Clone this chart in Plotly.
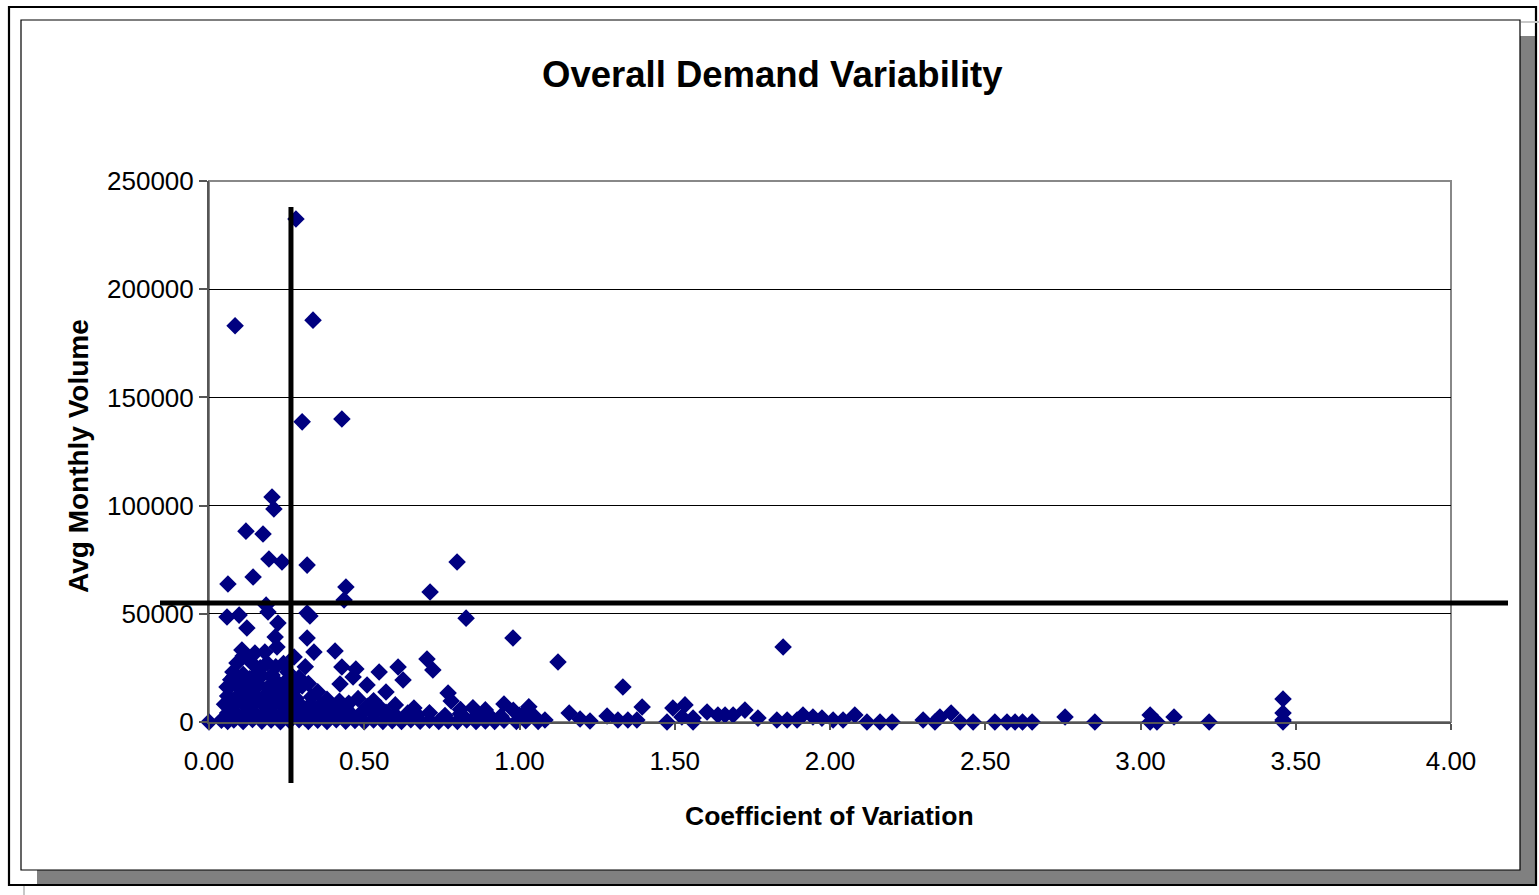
import plotly.graph_objects as go

# ---- data: (coefficient of variation, average monthly volume) ----
high_points = [
    (0.280, 232400), (0.084, 183100), (0.335, 185700), (0.300, 138700), (0.428, 140000),
    (0.203, 104000), (0.209, 98400), (0.119, 88200), (0.174, 86900), (0.193, 75300),
    (0.235, 73900), (0.316, 72500), (0.799, 73900), (0.142, 67000), (0.061, 63800),
    (0.441, 62400), (0.712, 60100), (0.435, 56400), (0.184, 54000),
]
mid_points = [
    (0.058, 48500), (0.097, 49400), (0.190, 50800), (0.316, 50400), (0.325, 49000),
    (0.828, 48000), (0.122, 43400), (0.222, 45700), (0.213, 39300), (0.316, 38800),
    (0.979, 38800), (0.219, 34700), (0.338, 32300), (0.406, 32800), (0.106, 33300),
    (0.274, 30000), (0.148, 31900), (0.180, 32300), (0.702, 29100), (0.721, 24000),
    (1.124, 27700), (1.849, 34700), (0.428, 25400), (0.473, 24500), (0.548, 23100),
    (0.609, 25400), (0.464, 20800), (0.625, 19400), (0.422, 17600), (0.509, 17100),
    (0.570, 13900), (1.333, 16200), (0.138, 27300), (0.187, 27300), (0.090, 27300),
    (0.077, 23100), (0.155, 22600), (0.203, 21700), (0.254, 23100), (0.058, 16200),
    (0.196, 15700), (0.277, 14800), (0.222, 16200), (0.770, 13400), (0.110, 30500),
    (0.165, 25000), (0.240, 27000), (0.265, 19500), (0.130, 20000), (0.100, 19000),
    (0.070, 19500), (0.215, 25500), (0.245, 18500), (0.290, 20500),
]
dense_points = [
    # lowest row
    (0.040, 800), (0.060, 300), (0.080, 900), (0.110, 200), (0.140, 1200), (0.170, 400),
    (0.200, 900), (0.230, 100), (0.260, 600), (0.290, 1100), (0.320, 300), (0.350, 800),
    (0.380, 200), (0.410, 1000), (0.440, 400), (0.470, 700), (0.500, 100), (0.530, 900),
    (0.560, 300), (0.590, 600), (0.620, 200), (0.650, 1000), (0.680, 400), (0.710, 800),
    (0.740, 200), (0.770, 600), (0.800, 300), (0.830, 900), (0.860, 200), (0.890, 500),
    (0.920, 300), (0.950, 800), (0.990, 200), (1.020, 600), (1.060, 300),
    # second row
    (0.060, 4200), (0.090, 3600), (0.120, 4500), (0.150, 3800), (0.180, 4300), (0.210, 3500),
    (0.240, 4600), (0.270, 3900), (0.300, 4100), (0.330, 3400), (0.360, 4400), (0.400, 3700),
    (0.430, 4800), (0.460, 3300), (0.490, 4200), (0.530, 3600), (0.570, 4500), (0.600, 3200),
    (0.640, 4100), (0.670, 3500), (0.710, 4300), (0.760, 3000), (0.810, 3800), (0.860, 2900),
    (0.900, 3400), (0.940, 2600), (1.000, 3100),
    # third row
    (0.050, 8200), (0.080, 7600), (0.110, 8500), (0.140, 7900), (0.170, 8800), (0.200, 7400),
    (0.230, 8300), (0.260, 7700), (0.290, 8600), (0.320, 7200), (0.360, 8100), (0.410, 7500),
    (0.450, 8700), (0.510, 7300), (0.550, 6800), (0.600, 7900), (0.660, 6500), (0.780, 9700),
    (0.850, 6600), (0.950, 8300), (1.030, 7000), (0.810, 5800), (0.890, 5600), (0.980, 5400),
    (1.020, 4600),
    # fourth row
    (0.060, 12000), (0.090, 11500), (0.120, 12500), (0.150, 11800), (0.180, 12300),
    (0.210, 11200), (0.240, 12600), (0.280, 11000), (0.330, 11600), (0.380, 10500),
    (0.480, 10800), (0.420, 9600), (0.530, 9800), (0.270, 10000),
    # upper fill
    (0.070, 16800), (0.100, 15600), (0.130, 16400), (0.160, 17200), (0.190, 16000),
    (0.250, 15800), (0.300, 16700), (0.080, 21000), (0.110, 22000), (0.140, 20500),
    (0.170, 21500), (0.210, 19800), (0.310, 25500), (0.320, 17800), (0.350, 14000),
    (0.340, 6000), (0.390, 2500), (0.440, 6300), (0.370, 5800), (0.255, 2200), (0.310, 1800),
]
tail_points = [
    (1.050, 2300), (1.082, 900), (1.160, 4200), (1.195, 1400), (1.227, 500), (1.282, 2800),
    (1.317, 900), (1.349, 900), (1.378, 900), (1.395, 6900), (1.475, 0), (1.494, 6500),
    (1.523, 2300), (1.533, 7900), (1.559, 1800), (1.559, 0), (1.604, 4600), (1.639, 3200),
    (1.662, 3200), (1.688, 3200), (1.726, 5500), (1.768, 1800), (1.829, 900), (1.862, 900),
    (1.894, 900), (1.913, 3200), (1.945, 2300), (1.974, 1800), (2.010, 900), (2.042, 900),
    (2.080, 3200), (2.119, 0), (2.161, 0), (2.200, 0), (2.300, 900), (2.338, 0),
    (2.354, 2300), (2.390, 4200), (2.419, 0), (2.461, 0), (2.531, 0), (2.570, 0),
    (2.596, 0), (2.620, 0), (2.651, 0), (2.757, 2300), (2.853, 0), (3.031, 3200),
    (3.031, 0), (3.053, 0), (3.108, 2300), (3.221, 0), (3.459, 10600), (3.459, 4200),
    (3.459, 900), (3.459, 0), (0.000, 0),
]

# thresholds drawn as the reference cross lines
cv_threshold = 0.264
volume_threshold = 55000

x_ticks = [0.0, 0.5, 1.0, 1.5, 2.0, 2.5, 3.0, 3.5, 4.0]
y_ticks = [0, 50000, 100000, 150000, 200000, 250000]

all_points = high_points + mid_points + dense_points + tail_points
cv = [p[0] for p in all_points]
vol = [p[1] for p in all_points]

W, H = 1539, 895
L, R, T, B = 209, 1451, 181, 722


def px(xp):
    return (xp - L) / (R - L)


def py(yp):
    return (B - yp) / (B - T)


FONT = "Liberation Sans, Arial, sans-serif"

fig = go.Figure()
fig.add_trace(go.Scatter(
    x=cv, y=vol, mode="markers",
    marker=dict(symbol="diamond", size=13.5, color="#000080", line=dict(width=0)),
    showlegend=False, cliponaxis=False,
))

shapes = [
    # shadow
    dict(type="rect", xref="paper", yref="paper", x0=px(37), x1=px(1535), y0=py(884), y1=py(36),
         fillcolor="#808080", line=dict(width=0), layer="below"),
    # chart area
    dict(type="rect", xref="paper", yref="paper", x0=px(21), x1=px(1520), y0=py(870), y1=py(20),
         fillcolor="white", line=dict(color="black", width=1.2), layer="below"),
    # outer frame
    dict(type="rect", xref="paper", yref="paper", x0=px(9), x1=px(1536), y0=py(885), y1=py(7),
         fillcolor="rgba(0,0,0,0)", line=dict(color="black", width=2.2), layer="below"),
    dict(type="line", xref="paper", yref="paper", x0=px(24), x1=px(24), y0=py(886), y1=py(895),
         line=dict(color="#c8c8c8", width=2), layer="below"),
    dict(type="line", xref="paper", yref="paper", x0=px(1521), x1=px(1539), y0=py(22), y1=py(22),
         line=dict(color="#c8c8c8", width=2), layer="below"),
    # threshold lines
    dict(type="line", xref="x", yref="paper", x0=cv_threshold, x1=cv_threshold,
         y0=py(783), y1=py(207), line=dict(color="black", width=5), layer="above"),
    dict(type="line", xref="paper", yref="y", x0=px(160), x1=px(1508),
         y0=volume_threshold, y1=volume_threshold, line=dict(color="black", width=5), layer="above"),
]

annotations = [
    dict(text="<b>Overall Demand Variability</b>", xref="paper", yref="paper",
         x=px(772), y=py(75), xanchor="center", yanchor="middle", showarrow=False,
         font=dict(family=FONT, size=36.5, color="black")),
    dict(text="<b>Coefficient of Variation</b>", xref="paper", yref="paper",
         x=px(829), y=py(816), xanchor="center", yanchor="middle", showarrow=False,
         font=dict(family=FONT, size=26.5, color="black")),
    dict(text="<b>Avg Monthly Volume</b>", xref="paper", yref="paper", textangle=-90,
         x=px(78), y=py(456), xanchor="center", yanchor="middle", showarrow=False,
         font=dict(family=FONT, size=28, color="black")),
]

fig.update_layout(
    width=W, height=H, autosize=False,
    margin=dict(l=L, r=W - R, t=T, b=H - B, pad=0),
    paper_bgcolor="white", plot_bgcolor="white",
    font=dict(family=FONT, size=26, color="black"),
    shapes=shapes, annotations=annotations,
    xaxis=dict(range=[0, 4], tickvals=x_ticks, tickformat=".2f", showgrid=False,
               zeroline=False, showline=True, linecolor="#555555", linewidth=2,
               ticks="outside", ticklen=6, tickcolor="#555555", tickwidth=1.5,
               ticklabelstandoff=9,
               mirror=False, automargin=False,
               tickfont=dict(family=FONT, size=26, color="black")),
    yaxis=dict(range=[0, 250000], tickvals=y_ticks, tickformat="d", showgrid=True,
               gridcolor="black", gridwidth=1, zeroline=False, showline=True,
               linecolor="#555555", linewidth=2, ticks="outside", ticklen=8,
               tickcolor="#555555", tickwidth=1.5, automargin=False,
               tickfont=dict(family=FONT, size=26, color="black")),
)
# gray top/right plot border
fig.add_shape(type="rect", xref="paper", yref="paper", x0=0, x1=1, y0=0, y1=1,
              line=dict(color="#888888", width=2), fillcolor="rgba(0,0,0,0)", layer="below")

fig.write_html("out.html")
